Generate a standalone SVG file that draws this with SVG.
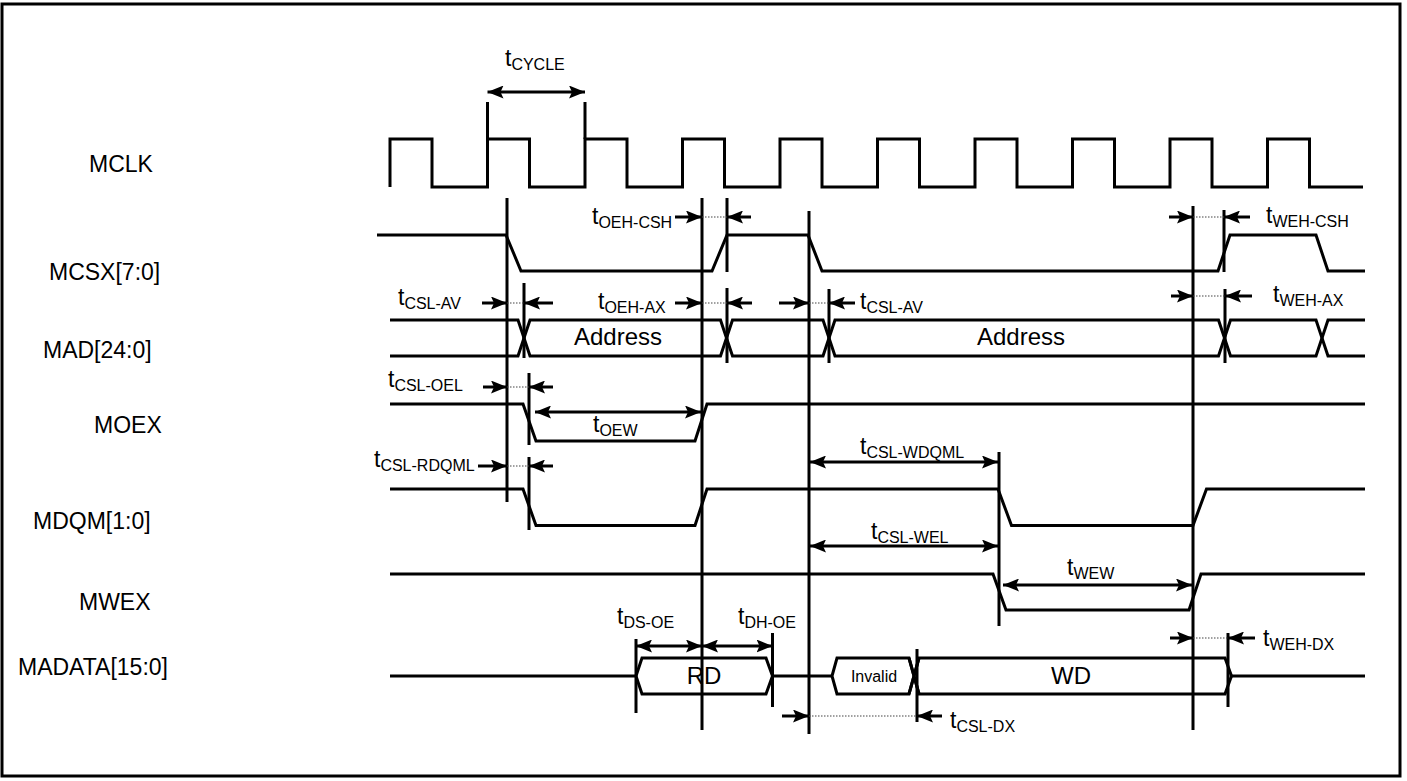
<svg xmlns="http://www.w3.org/2000/svg" width="1407" height="781" viewBox="0 0 1407 781">
<style>
.w{fill:none;stroke:#000;stroke-width:3;stroke-linejoin:miter}
.v{stroke:#000;stroke-width:3;fill:none}
.a{stroke:#000;stroke-width:3;fill:none;marker-end:url(#ah)}
.d{stroke:#000;stroke-width:3;fill:none;marker-start:url(#ah);marker-end:url(#ah)}
.dot{stroke:#444;stroke-width:1.2;stroke-dasharray:1.5 1.5;fill:none}
.lbl{font-family:"Liberation Sans",Arial,sans-serif;font-size:23px;fill:#000}
.t{font-family:"Liberation Sans",Arial,sans-serif;font-size:23px;fill:#000}
.s{font-size:16px}
.bus{font-family:"Liberation Sans",Arial,sans-serif;font-size:24px;fill:#000;text-anchor:middle}
</style>
<defs>
<marker id="ah" markerUnits="userSpaceOnUse" viewBox="0 0 16 13" refX="16" refY="6.5" markerWidth="16" markerHeight="13" orient="auto-start-reverse">
<path d="M0,0 L16,6.5 L0,13 L3,6.5 Z" fill="#000"/>
</marker>
</defs>
<rect x="0" y="0" width="1407" height="781" fill="#fff"/>
<rect x="2" y="4" width="1398" height="772" fill="none" stroke="#000" stroke-width="3"/>

<g id="MCLK">
<text class="lbl" x="89" y="172">MCLK</text>
<path class="w" d="M390,187 V139 H432 V187 H487.5 V139 H529.5 V187 H585 V139 H627 V187 H682.5 V139 H724.5 V187 H780 V139 H822 V187 H877.5 V139 H919.5 V187 H975 V139 H1017 V187 H1072.5 V139 H1114.5 V187 H1170 V139 H1212 V187 H1267.5 V139 H1309.5 V187 H1363"/>
</g>
<g id="MCSX">
<text class="lbl" x="49" y="280">MCSX[7:0]</text>
<path class="w" d="M377,235 H506 L521,271 H712 L727,235 H808 L822,271 H1218 L1230,235 H1316 L1328,271 H1365"/>
</g>
<g id="MAD">
<text class="lbl" x="43" y="358">MAD[24:0]</text>
<path class="w" d="M390,320 H518 L530,356 H720.5 L732.5,320 H823 L835,356 H1218.5 L1230.5,320 H1316 L1328,356 H1365"/>
<path class="w" d="M390,356 H518 L530,320 H720.5 L732.5,356 H823 L835,320 H1218.5 L1230.5,356 H1316 L1328,320 H1365"/>
<text class="bus" x="618" y="345">Address</text>
<text class="bus" x="1021" y="345">Address</text>
</g>
<g id="MOEX">
<text class="lbl" x="94" y="433">MOEX</text>
<path class="w" d="M390,404 H523 L536,441 H695 L707,404 H1365"/>
</g>
<g id="MDQM">
<text class="lbl" x="33" y="529">MDQM[1:0]</text>
<path class="w" d="M390,489 H523 L536,525.5 H695 L707,489 H998 L1011.5,525.5 H1193 L1206.5,489 H1365"/>
</g>
<g id="MWEX">
<text class="lbl" x="79" y="610">MWEX</text>
<path class="w" d="M390,574 H993 L1006,610 H1189 L1201,574 H1365"/>
</g>
<g id="MADATA">
<text class="lbl" x="18" y="675">MADATA[15:0]</text>
<path class="w" d="M390,676 H636"/>
<path class="w" d="M636,676 L642,658 H766 L772.5,676 L766,694 H642 Z"/>
<path class="w" d="M772.5,676 H832"/>
<path class="w" d="M919,658 L909,694 H837 L832,676 L837,658 H909 L919,694"/>
<path class="w" d="M909,658 L919,694 H1225 L1231.5,676 L1225,658 H919 L909,694"/>
<path class="w" d="M1231.5,676 H1365"/>
<text class="bus" x="704" y="684">RD</text>
<text class="bus" x="874" y="682" style="font-size:16px">Invalid</text>
<text class="bus" x="1071" y="684">WD</text>
</g>

<g id="connectors">
<path class="v" d="M487.5,102 V139 M585,102 V139 M507,198 V502 M702,198 V730 M727,198 V272 M809,211 V734 M1193,206 V730 M1224,210 V272 M524,283 V358 M727,288 V363 M829,289 V363 M1225,289 V363 M529,373 V445 M529,457 V530 M999,452 V626 M636,639 V713 M772.5,633 V707 M917,649 V722 M1228,633 V707"/>
<path class="d" d="M487.5,92 H585"/>
<path class="d" d="M535,412 H701"/>
<path class="d" d="M810,462 H998"/>
<path class="d" d="M810,546 H998"/>
<path class="d" d="M1003,585 H1192"/>
<path class="d" d="M636,646 H702"/>
<path class="d" d="M702,646 H772.5"/>
<path class="dot" d="M702,217 H727 M1193,217 H1224 M507,303 H524 M702,303 H727 M809,303 H829 M1193,296 H1225 M507,387 H529 M507,466 H529 M809,716 H917 M1193,638 H1228"/>
<path class="a" d="M675,217 H702"/><path class="a" d="M751,217 H727"/>
<path class="a" d="M1169,217 H1193"/><path class="a" d="M1250,217 H1224"/>
<path class="a" d="M482,303 H507"/><path class="a" d="M553,303 H524"/>
<path class="a" d="M675,303 H702"/><path class="a" d="M752,303 H727"/>
<path class="a" d="M779,303 H809"/><path class="a" d="M855,303 H829"/>
<path class="a" d="M1171,296 H1193"/><path class="a" d="M1252,296 H1225"/>
<path class="a" d="M483,387 H507"/><path class="a" d="M553,387 H529"/>
<path class="a" d="M478,466 H507"/><path class="a" d="M553,466 H529"/>
<path class="a" d="M782,716 H809"/><path class="a" d="M942,716 H917"/>
<path class="a" d="M1170,638 H1193"/><path class="a" d="M1255,638 H1228"/>
</g>

<g id="timing-labels">
<text class="t" x="505" y="66">t<tspan class="s" dy="4">CYCLE</tspan></text>
<text class="t" x="592" y="224">t<tspan class="s" dy="4">OEH-CSH</tspan></text>
<text class="t" x="1266" y="223">t<tspan class="s" dy="4">WEH-CSH</tspan></text>
<text class="t" x="398" y="305">t<tspan class="s" dy="4">CSL-AV</tspan></text>
<text class="t" x="598" y="309">t<tspan class="s" dy="4">OEH-AX</tspan></text>
<text class="t" x="860" y="309">t<tspan class="s" dy="4">CSL-AV</tspan></text>
<text class="t" x="1273" y="302">t<tspan class="s" dy="4">WEH-AX</tspan></text>
<text class="t" x="388" y="387">t<tspan class="s" dy="4">CSL-OEL</tspan></text>
<text class="t" x="593" y="432">t<tspan class="s" dy="4">OEW</tspan></text>
<text class="t" x="374" y="467">t<tspan class="s" dy="4">CSL-RDQML</tspan></text>
<text class="t" x="860" y="454">t<tspan class="s" dy="4">CSL-WDQML</tspan></text>
<text class="t" x="871" y="539">t<tspan class="s" dy="4">CSL-WEL</tspan></text>
<text class="t" x="1067" y="575">t<tspan class="s" dy="4">WEW</tspan></text>
<text class="t" x="617" y="624">t<tspan class="s" dy="4">DS-OE</tspan></text>
<text class="t" x="738" y="624">t<tspan class="s" dy="4">DH-OE</tspan></text>
<text class="t" x="950" y="728">t<tspan class="s" dy="4">CSL-DX</tspan></text>
<text class="t" x="1263" y="646">t<tspan class="s" dy="4">WEH-DX</tspan></text>
</g>
</svg>
